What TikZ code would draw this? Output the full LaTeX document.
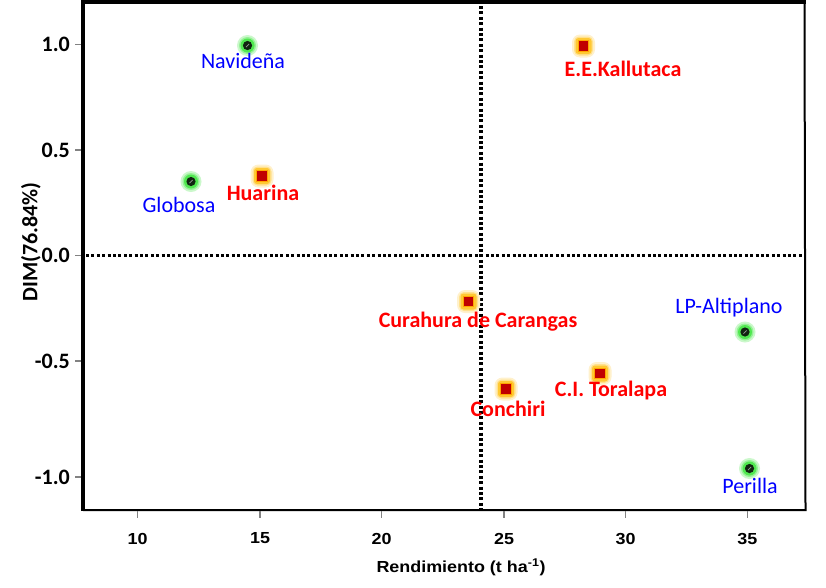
\documentclass[tikz,border=0pt]{standalone}
\usepackage{graphicx}
\usepackage{fontspec}
\setmainfont{Carlito}
\newfontfamily\arialf{Liberation Sans}
\definecolor{gglowc}{RGB}{80,232,80}
\definecolor{oglowc}{RGB}{255,200,50}
\definecolor{dotcol}{RGB}{16,36,16}
\definecolor{sqred}{RGB}{192,0,0}
\definecolor{sqorange}{RGB}{255,165,0}
\definecolor{lblblue}{RGB}{0,0,255}
\definecolor{lblred}{RGB}{255,0,0}
\definecolor{tickgray}{RGB}{130,130,130}
\tikzset{
  gpt/.style={circle, minimum size=21pt, inner sep=0pt, fill=gglowc!30,
    path picture={
      \fill[gglowc!60] (path picture bounding box.center) circle (8.5pt);
      \fill[gglowc] (path picture bounding box.center) circle (7pt);
      \fill[dotcol] (path picture bounding box.center) circle (4.6pt);
      \draw[gray!80, line width=0.7pt] ([shift={(-1.6pt,-1.6pt)}]path picture bounding box.center) -- ([shift={(1.6pt,1.6pt)}]path picture bounding box.center);
    }},
  rpt/.style={rectangle, rounded corners=8pt, minimum size=23pt, inner sep=0pt, fill=oglowc!25,
    path picture={
      \fill[oglowc!55, rounded corners=5pt] ([shift={(-9.5pt,-9.5pt)}]path picture bounding box.center) rectangle ([shift={(9.5pt,9.5pt)}]path picture bounding box.center);
      \fill[oglowc, rounded corners=3pt] ([shift={(-8pt,-8pt)}]path picture bounding box.center) rectangle ([shift={(8pt,8pt)}]path picture bounding box.center);
      \filldraw[sharp corners, fill=sqred, draw=sqorange, line width=1.2pt] ([shift={(-5.3pt,-5.3pt)}]path picture bounding box.center) rectangle ([shift={(5.3pt,5.3pt)}]path picture bounding box.center);
    }},
  bluelbl/.style={inner sep=0pt, text=lblblue, font=\fontsize{22}{26}\selectfont},
  redlbl/.style={inner sep=0pt, text=lblred, font=\bfseries\fontsize{22}{26}\selectfont},
  ylab/.style={inner sep=0pt, anchor=east, font=\bfseries\fontsize{22}{26}\selectfont},
  xlab/.style={inner sep=0pt, font=\arialf\bfseries\fontsize{16}{18}\selectfont},
  tickln/.style={draw=tickgray, line width=1.3pt},
  guide/.style={line width=3.2pt, dash pattern=on 3pt off 2.4pt},
}
\begin{document}
\begin{tikzpicture}[x=1pt,y=-1pt]
\useasboundingbox[fill=white] (0,0) rectangle (826,587);
% corners of frame
\coordinate (tl) at (81,2);
\coordinate (tr) at (805.5,2);
\coordinate (bl) at (83,510);
\coordinate (br) at (805.5,510);
% guide lines
\coordinate (hl) at (86,255.5);
\coordinate (hr) at (803,255.5);
\coordinate (vt) at (481,6);
\coordinate (vb) at (481,509);
\draw[guide] (hl) -- (hr);
\draw[guide] (vt) -- (vb);
% frame
\draw[line width=2pt] (bl) -- (br) -- (804.5,2);
\draw[line width=4pt] (tl) -- (tr);
\draw[line width=4pt] (83,0) -- (83,511);
% y ticks
\foreach \yy/\lab in {44.5/1.0, 150/0.5, 255.5/0.0, 361/-0.5, 477/-1.0}{
  \draw[tickln] (75,\yy) -- (81,\yy);
  \node[ylab] at (70,\yy) {\lab};
}
% x ticks
\foreach \xx/\lab in {137.7/10, 260/15, 381.7/20, 504/25, 625.7/30, 747.3/35}{
  \draw[tickln] (\xx,511) -- (\xx,518);
  \node[xlab] at (\xx,538.5) {\scalebox{1.12}[1]{\lab}};
}
% axis titles
\node[inner sep=0pt, font=\arialf\bfseries\fontsize{16}{18}\selectfont] (xt) at (461,567) {\scalebox{1.12}[1]{Rendimiento (t ha\textsuperscript{-1})}};
\node[inner sep=0pt, rotate=90, font=\bfseries\fontsize{22}{26}\selectfont] (yt) at (31,242) {DIM(76.84\%)};
% markers
\node[gpt] (navp) at (247.5,45.5) {};
\node[gpt] (glop) at (191,181.5) {};
\node[gpt] (lpp) at (745,332) {};
\node[gpt] (perp) at (749.5,468.5) {};
\node[rpt] (huap) at (262,176) {};
\node[rpt] (kalp) at (583.5,46) {};
\node[rpt] (curp) at (468.5,301.5) {};
\node[rpt] (conp) at (506,389) {};
\node[rpt] (torp) at (600,373.5) {};
% labels
\node[bluelbl] (navl) at (243,61) {Navideña};
\node[bluelbl] (glol) at (179,205) {Globosa};
\node[bluelbl] (lpl) at (729,308) {LP-Altiplano};
\node[bluelbl] (perl) at (750,486) {Perilla};
\node[redlbl] (hual) at (263,193) {Huarina};
\node[redlbl] (kall) at (623,69) {E.E.Kallutaca};
\node[redlbl] (curl) at (478,322) {Curahura de Carangas};
\node[redlbl] (conl) at (508,409) {Conchiri};
\node[redlbl] (torl) at (611,391) {C.I. Toralapa};
\end{tikzpicture}
\end{document}
